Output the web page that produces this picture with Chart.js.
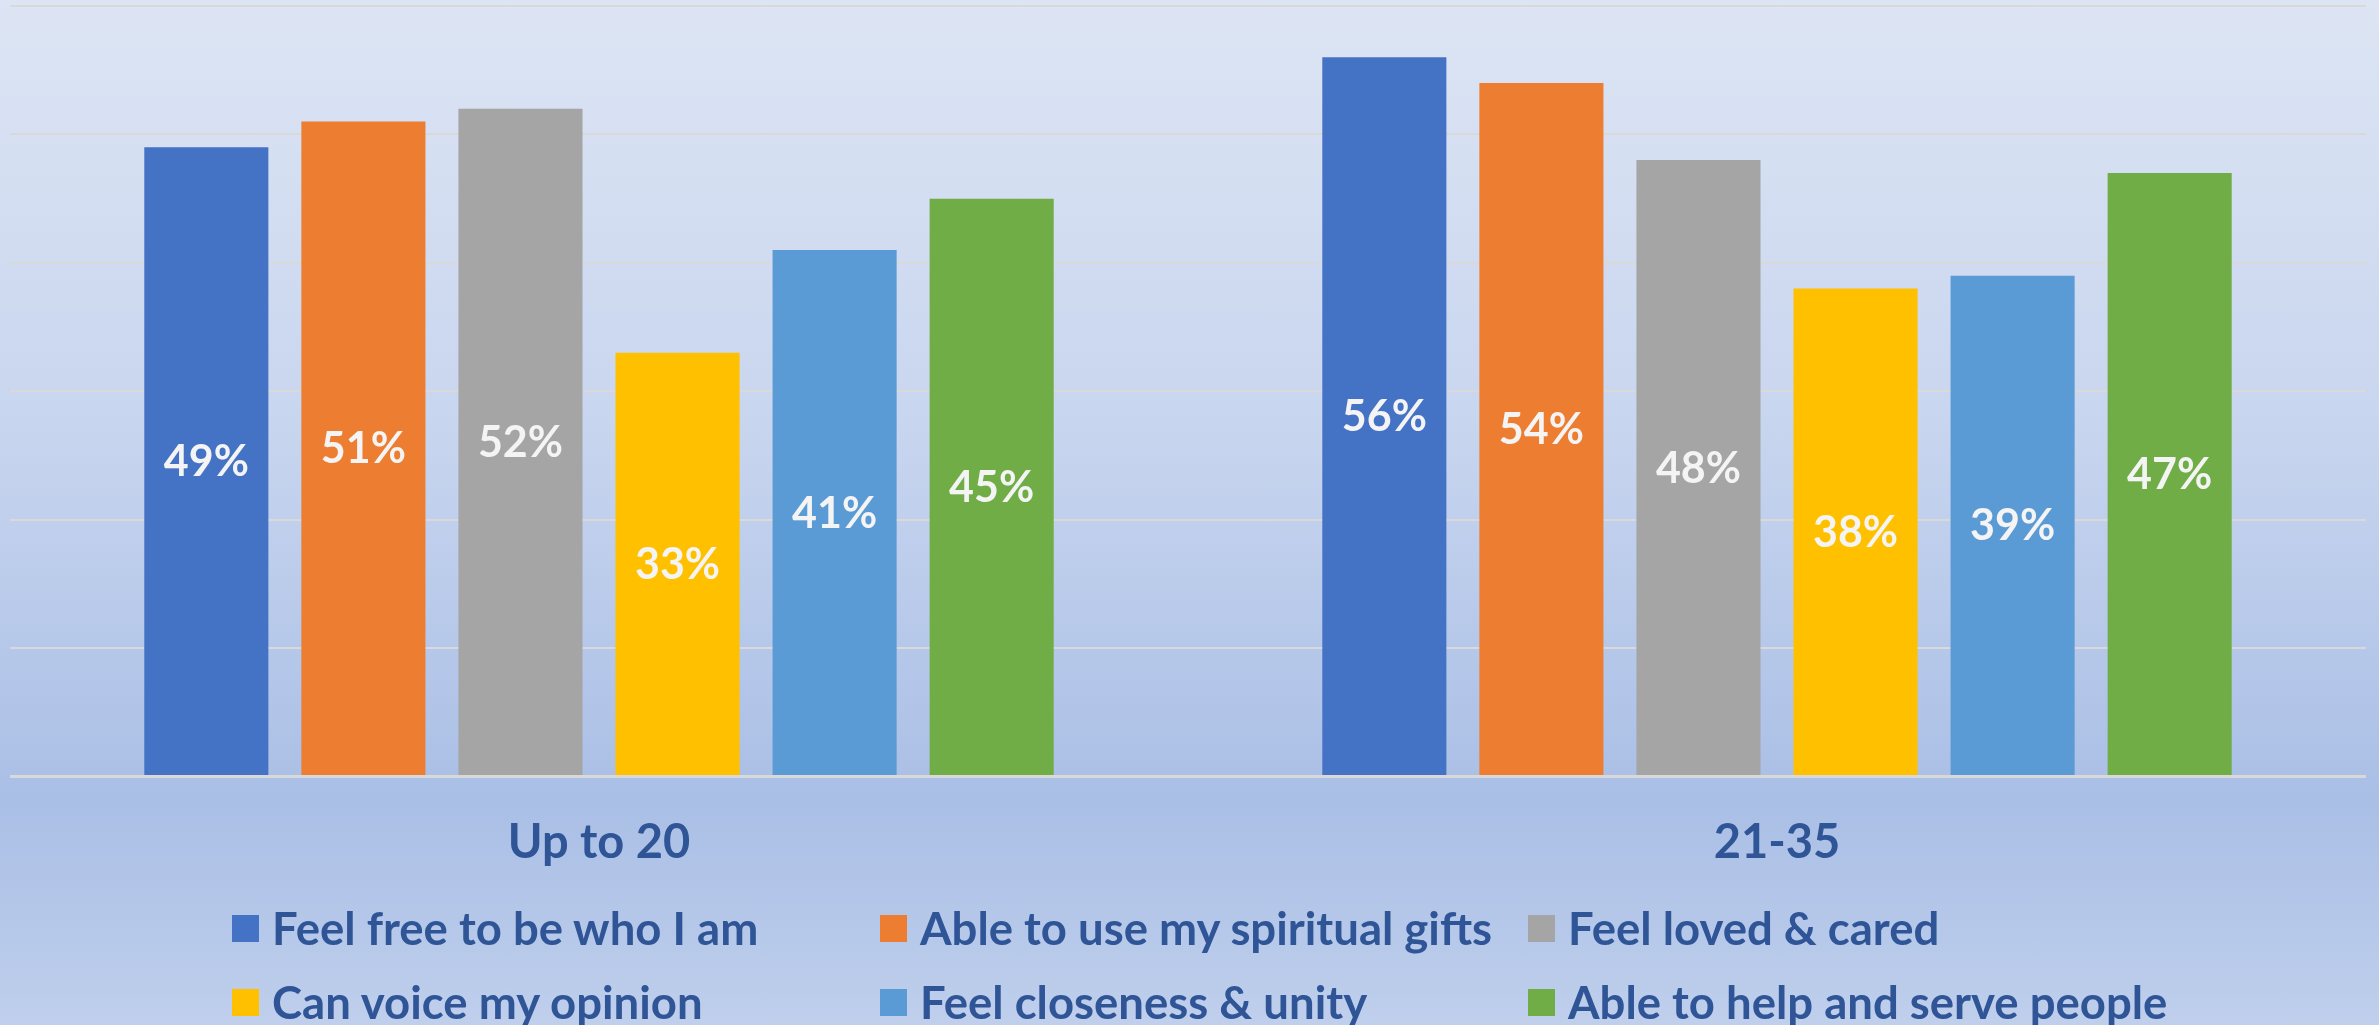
<!DOCTYPE html>
<html>
<head>
<meta charset="utf-8">
<script src="https://cdn.jsdelivr.net/npm/chart.js@4.4.1/dist/chart.umd.min.js"></script>
<style>
  html, body { margin: 0; padding: 0; }
  #wrap {
    position: relative;
    width: 2379px;
    height: 1025px;
    overflow: hidden;
    background: linear-gradient(to bottom, #dde5f4 0%, #c9d6ef 40%, #aabfe6 78%, #bfcfec 100%);
    font-family: Lato, 'Open Sans', sans-serif;
  }
  #chart { position: absolute; left: 0; top: 0; }
  #legend {
    position: absolute;
    left: 232px;
    top: 891px;
    display: grid;
    grid-template-columns: 648px 648px 648px;
    grid-auto-rows: 74px;
  }
  .lg-item { display: flex; align-items: center; }
  .lg-box { width: 27px; height: 27px; margin-right: 13px; flex: none; }
  .lg-text { font-weight: 700; font-size: 45.5px; line-height: 1; color: #2f5597; white-space: nowrap; }
</style>
</head>
<body>
<div id="wrap">
  <canvas id="chart" width="2379" height="1025"></canvas>
  <div id="legend"></div>
</div>
<script>
// ── Data ──────────────────────────────────────────────────────────────────
const ageGroups   = ['Up to 20', '21-35'];
const seriesNames = [
  'Feel free to be who I am',
  'Able to use my spiritual gifts',
  'Feel loved & cared',
  'Can voice my opinion',
  'Feel closeness & unity',
  'Able to help and serve people',
];
const feelFree    = [49, 56];
const useGifts    = [51, 54];
const lovedCared  = [52, 48];
const voiceOpin   = [33, 38];
const closeness   = [41, 39];
const helpServe   = [45, 47];
const yTicks      = [0, 10, 20, 30, 40, 50, 60];

const colors = ['#4472c4', '#ed7d31', '#a5a5a5', '#ffc000', '#5b9bd5', '#70ad47'];
const TEXT   = '#2f5597';

// ── Value labels centred inside each bar ──────────────────────────────────
const barLabels = {
  id: 'barLabels',
  afterDatasetsDraw(chart) {
    const { ctx } = chart;
    ctx.save();
    ctx.font = 'bold 43px Lato';
    ctx.fillStyle = '#f4f4f4';
    ctx.textAlign = 'center';
    ctx.textBaseline = 'alphabetic';
    chart.data.datasets.forEach((ds, i) => {
      chart.getDatasetMeta(i).data.forEach((bar, j) => {
        const mid = (bar.y + bar.base) / 2;
        ctx.fillText(ds.data[j] + '%', bar.x, mid + 15);
      });
    });
    ctx.restore();
  },
};

// ── Chart ─────────────────────────────────────────────────────────────────
const values = [feelFree, useGifts, lovedCared, voiceOpin, closeness, helpServe];

const chart = new Chart(document.getElementById('chart'), {
  type: 'bar',
  data: {
    labels: ageGroups,
    datasets: seriesNames.map((name, i) => ({
      label: name,
      data: values[i],
      backgroundColor: colors[i],
      borderWidth: 0,
      categoryPercentage: 0.80,
      barPercentage: 0.79,
    })),
  },
  options: {
    responsive: false,
    animation: false,
    layout: { padding: { left: 10, right: 13, top: 6, bottom: 124 } },
    plugins: {
      legend:  { display: false },
      tooltip: { enabled: false },
    },
    scales: {
      x: {
        grid:   { display: false },
        border: { display: false },
        ticks:  { color: TEXT, padding: 30, font: { family: 'Lato', weight: 'bold', size: 47 } },
      },
      y: {
        min: yTicks[0],
        max: yTicks[yTicks.length - 1],
        afterBuildTicks: (scale) => { scale.ticks = yTicks.map(v => ({ value: v })); },
        ticks:  { display: false },
        border: { display: false },
        grid:   {
          color: '#d9d9d9',
          lineWidth: (c) => (c.tick && c.tick.value === 0 ? 3 : 2),
          drawTicks: false,
        },
      },
    },
  },
  plugins: [barLabels],
});

// ── Legend (three aligned columns, like the Office one) ───────────────────
const legendEl = document.getElementById('legend');
chart.data.datasets.forEach((ds) => {
  const item = document.createElement('div');
  item.className = 'lg-item';
  item.innerHTML = `<span class="lg-box" style="background:${ds.backgroundColor}"></span><span class="lg-text">${ds.label.replace('&', '&amp;')}</span>`;
  legendEl.appendChild(item);
});
</script>
</body>
</html>
